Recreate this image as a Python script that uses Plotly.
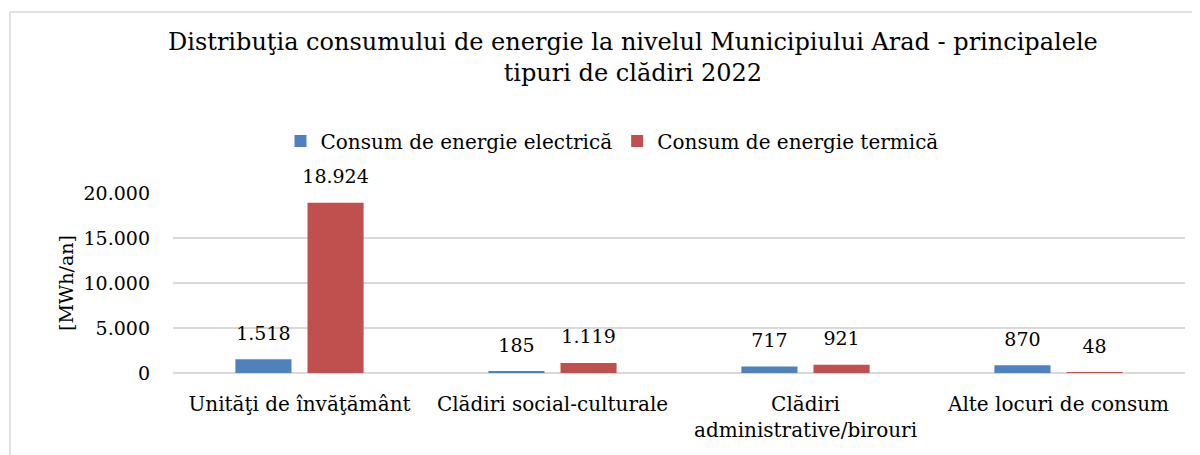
import plotly.graph_objects as go

categories = ["Unităţi de învăţământ", "Clădiri social-culturale",
              "Clădiri<br>administrative/birouri", "Alte locuri de consum"]
electric = [1518, 185, 717, 870]
thermal = [18924, 1119, 921, 48]
series_names = ["Consum de energie electrică", "Consum de energie termică"]
tick_vals = [0, 5000, 10000, 15000, 20000]

FONT = "DejaVu Serif"
OFF = 8  # default page body margin
W, H = 1192, 447
L, R, T = 173 - OFF, W - (1185 - OFF), 193 - OFF
B = H - (373 - OFF)
pw, ph = W - L - R, H - T - B

def px_x(x):  # page px -> paper
    return (x - OFF - L) / pw

def px_y(y):
    return (H - B - (y - OFF)) / ph

fig = go.Figure()
series = [(series_names[0], electric, "#4F81BD", "e"), (series_names[1], thermal, "#C0504D", "t")]
for name, vals, col, grp in series:
    fig.add_bar(x=categories, y=vals, name=name, marker_color=col,
                marker_line=dict(width=0), offsetgroup=grp)
for name, vals, col, grp in series:
    fig.add_scatter(x=categories, y=vals, mode="markers+text", offsetgroup=grp,
                    marker=dict(size=22, opacity=0), texttemplate="%{y:,}",
                    textposition="top center", cliponaxis=False, showlegend=False, hoverinfo="skip",
                    textfont=dict(family=FONT, size=19, color="#000"))

fig.update_layout(
    width=W, height=H,
    margin=dict(l=L, r=R, t=T, b=B, autoexpand=False),
    paper_bgcolor="white", plot_bgcolor="white",
    separators=",.",
    barmode="group", bargap=0.43, bargroupgap=0.222,
    scattermode="group", scattergap=0.43,
    font=dict(family=FONT, size=19, color="#000"),
    showlegend=True,
    legend=dict(orientation="h", x=px_x(612), xanchor="center", y=px_y(141), yanchor="middle",
                font=dict(family=FONT, size=20), itemwidth=30, traceorder="normal"),
    xaxis=dict(showgrid=False, showline=False, ticks="", ticklabelstandoff=17,
               tickfont=dict(family=FONT, size=20)),
    yaxis=dict(range=[0, 20000], tickvals=tick_vals, tickformat=",d", showgrid=True,
               gridcolor="#D9D9D9", gridwidth=1.5, zeroline=True, zerolinecolor="#D9D9D9",
               zerolinewidth=1.5, ticks="", ticklabelstandoff=22,
               tickfont=dict(family=FONT, size=19),
               title=dict(text="[MWh/an]", font=dict(family=FONT, size=19), standoff=4)),
)

fig.add_annotation(text="Distribuţia consumului de energie la nivelul Municipiului Arad - principalele<br>tipuri de clădiri 2022",
                   xref="paper", yref="paper", x=px_x(633), y=px_y(57), xanchor="center", yanchor="middle",
                   showarrow=False, font=dict(family=FONT, size=24, color="#000"))

fig.add_shape(type="rect", xref="paper", yref="paper",
              x0=px_x(10), x1=px_x(1215), y0=px_y(12), y1=px_y(470),
              line=dict(color="#D9D9D9", width=1.5), fillcolor="rgba(0,0,0,0)", layer="below")

fig.write_html("out.html")
